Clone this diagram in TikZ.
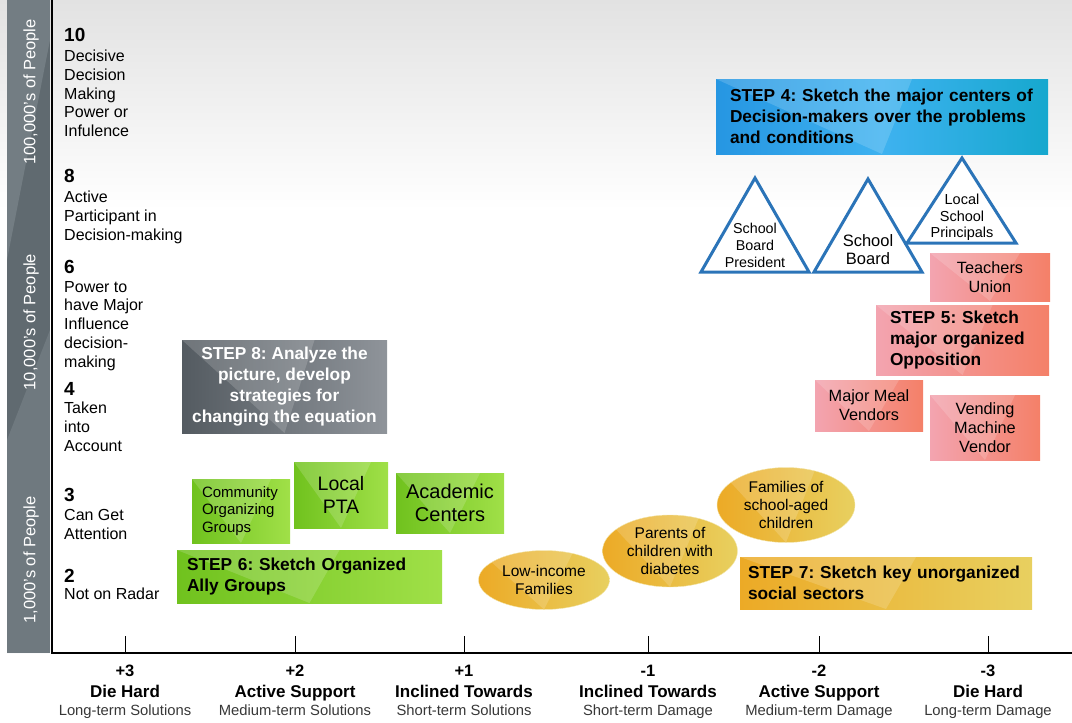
\documentclass[tikz,border=0pt]{standalone}
\usepackage{fontspec}
\setmainfont{Liberation Sans}
\usetikzlibrary{shapes.geometric}
\frenchspacing

\definecolor{bgtop}{RGB}{226,226,226}
\definecolor{bandgray}{RGB}{96,106,112}
\definecolor{bandlight}{RGB}{140,150,155}
\definecolor{triblue}{RGB}{43,116,184}
\definecolor{bluel}{RGB}{38,150,226}
\definecolor{bluem}{RGB}{62,178,240}
\definecolor{bluer}{RGB}{22,168,206}
\definecolor{pinkl}{RGB}{243,164,176}
\definecolor{pinkr}{RGB}{244,128,104}
\definecolor{greenl}{RGB}{112,194,30}
\definecolor{greenr}{RGB}{160,224,72}
\definecolor{grayl}{RGB}{84,91,97}
\definecolor{grayr}{RGB}{143,148,154}
\definecolor{goldl}{RGB}{236,170,38}
\definecolor{goldr}{RGB}{232,208,96}
\definecolor{termgray}{RGB}{55,55,55}

\tikzset{
  facet/.style={path picture={\fill[white,opacity=.16] (path picture bounding box.north west) -- ([xshift=30pt]path picture bounding box.north) -- (path picture bounding box.south) -- cycle;}},
  bluebox/.style={left color=bluel, right color=bluer, middle color=bluem, facet},
  pinkbox/.style={left color=pinkl, right color=pinkr, facet},
  greenbox/.style={left color=greenl, right color=greenr, facet},
  graybox/.style={left color=grayl, right color=grayr, facet},
  goldbox/.style={left color=goldl, right color=goldr, facet},
  goldoval/.style={ellipse, inner sep=0pt, left color=goldl, right color=goldr, draw=goldr!50!white, facet},
  steptext/.style={inner xsep=#1, inner ysep=0pt, align=left, font=\bfseries\fontsize{17.3}{21}\selectfont},
  boxtext/.style={inner sep=0pt, align=center, font=\fontsize{16.3}{19}\selectfont},
  ovaltext/.style={align=center, font=\fontsize{15.5}{18}\selectfont},
  decider/.style={draw=triblue, line width=3pt, fill=white},
  tritext/.style={anchor=north, inner sep=0pt, align=center, font=\fontsize{14.3}{16.8}\selectfont},
  levelnum/.style={anchor=north west, inner sep=0pt, font=\bfseries\fontsize{19}{22}\selectfont},
  leveltext/.style={anchor=north west, inner sep=0pt, align=left, font=\fontsize{16}{18.7}\selectfont},
  bandtext/.style={rotate=90, text=white, font=\fontsize{16.5}{18}\selectfont},
  axisnum/.style={anchor=north, inner sep=0pt, font=\bfseries\fontsize{16.5}{18}\selectfont},
  axisname/.style={anchor=north, inner sep=0pt, font=\bfseries\fontsize{17}{19}\selectfont},
  axisterm/.style={anchor=north, inner sep=0pt, text=termgray, font=\fontsize{14.8}{17}\selectfont}
}

\begin{document}
\begin{tikzpicture}[x=1pt,y=-1pt]

      \useasboundingbox (0,0) rectangle (1072,723);
      \shade[top color=bgtop, bottom color=white] (0,0) rectangle (1072,210);

      % side band
      \fill[bandgray] (7,0) rectangle (50,653);
      \fill[bandlight, opacity=.45] (7,0) -- (50,0) -- (50,40) -- (7,260) -- cycle;
      \fill[bandlight, opacity=.35] (7,440) -- (50,330) -- (50,653) -- (7,653) -- cycle;
      \node[bandtext] (bandhigh) at (31,92) {100,000's of People};
      \node[bandtext] (bandmid) at (31,322) {10,000's of People};
      \node[bandtext] (bandlow) at (31,560) {1,000's of People};

      % axes
      \draw[line width=2.2pt] (52,0) -- (52,653) -- (1072,653);
      \draw (125,636) -- (125,653);
      \draw (295,636) -- (295,653);
      \draw (464,636) -- (464,653);
      \draw (648,636) -- (648,653);
      \draw (819,636) -- (819,653);
      \draw (988,636) -- (988,653);

      \node[axisnum] (plusthree) at (125,665) {+3};
      \node[axisname] (plusthreename) at (125,685) {Die Hard};
      \node[axisterm] (plusthreeterm) at (125,705) {Long-term Solutions};
      \node[axisnum] (plustwo) at (295,665) {+2};
      \node[axisname] (plustwoname) at (295,685) {Active Support};
      \node[axisterm] (plustwoterm) at (295,705) {Medium-term Solutions};
      \node[axisnum] (plusone) at (464,665) {+1};
      \node[axisname] (plusonename) at (464,685) {Inclined Towards};
      \node[axisterm] (plusoneterm) at (464,705) {Short-term Solutions};
      \node[axisnum] (minusone) at (648,665) {-1};
      \node[axisname] (minusonename) at (648,685) {Inclined Towards};
      \node[axisterm] (minusoneterm) at (648,705) {Short-term Damage};
      \node[axisnum] (minustwo) at (819,665) {-2};
      \node[axisname] (minustwoname) at (819,685) {Active Support};
      \node[axisterm] (minustwoterm) at (819,705) {Medium-term Damage};
      \node[axisnum] (minusthree) at (988,665) {-3};
      \node[axisname] (minusthreename) at (988,685) {Die Hard};
      \node[axisterm] (minusthreeterm) at (988,705) {Long-term Damage};

      % power levels
      \node[levelnum] (levelten) at (64,28) {10};
      \node[leveltext] (leveltentext) at (64,50) {Decisive\\Decision\\Making\\Power or\\Infulence};
      \node[levelnum] (leveleight) at (64,169) {8};
      \node[leveltext] (leveleighttext) at (64,191) {Active\\Participant in\\Decision-making};
      \node[levelnum] (levelsix) at (64,260) {6};
      \node[leveltext] (levelsixtext) at (64,281) {Power to\\have Major\\Influence\\decision-\\making};
      \node[levelnum] (levelfour) at (64,382) {4};
      \node[leveltext] (levelfourtext) at (64,402) {Taken\\into\\Account};
      \node[levelnum] (levelthree) at (64,488) {3};
      \node[leveltext] (levelthreetext) at (64,509) {Can Get\\Attention};
      \node[levelnum] (leveltwo) at (64,569) {2};
      \node[leveltext] (leveltwotext) at (64,588) {Not on Radar};

      % decision makers
      \node[bluebox, steptext=14pt, text width=304pt, minimum height=75pt] (stepfour) at (882,116.5) {STEP 4: Sketch the major centers of\\Decision-makers over the problems\\and conditions};
      \draw[decider] (755,178) -- (809,272) -- (701,272) -- cycle;
      \draw[decider] (868,179) -- (922,272) -- (814,272) -- cycle;
      \draw[decider] (962,158) -- (1016,243) -- (907,243) -- cycle;
      \node[tritext] (boardpresident) at (755,223) {School\\Board\\President};
      \node[tritext, font=\fontsize{16.5}{18.5}\selectfont] (schoolboard) at (868,234) {School\\Board};
      \node[tritext, font=\fontsize{14.5}{16.5}\selectfont] (principals) at (962,194) {Local\\School\\Principals};

      % opposition
      \node[pinkbox, boxtext, minimum width=120pt, minimum height=48pt] (teachers) at (990,277) {Teachers\\Union};
      \node[pinkbox, steptext=14pt, text width=145pt, minimum height=70pt] (stepfive) at (962.5,340) {STEP 5: Sketch\\major organized\\Opposition};
      \node[pinkbox, boxtext, minimum width=108pt, minimum height=51pt] (mealvendors) at (869,405.5) {Major Meal\\Vendors};
      \node[pinkbox, boxtext, minimum width=110pt, minimum height=65pt] (vending) at (985,427.5) {Vending\\Machine\\Vendor};

      % analysis
      \node[graybox, text=white, inner sep=0pt, align=center, font=\bfseries\fontsize{17.3}{21}\selectfont, minimum width=205pt, minimum height=93pt] (stepeight) at (284.5,386.5) {STEP 8: Analyze the\\picture, develop\\strategies for\\changing the equation};

      % allies
      \node[greenbox, steptext=10pt, font=\fontsize{15}{17.5}\selectfont, text width=78pt, minimum height=64pt] (community) at (241,511) {Community\\Organizing\\Groups};
      \node[greenbox, boxtext, font=\fontsize{19.5}{22.5}\selectfont, minimum width=94pt, minimum height=66pt] (pta) at (341,495) {Local\\PTA};
      \node[greenbox, boxtext, font=\fontsize{20}{23}\selectfont, minimum width=108pt, minimum height=60pt] (academic) at (450,503) {Academic\\Centers};
      \node[greenbox, steptext=10pt, text width=245pt, minimum height=53pt] (stepsix) at (309.5,576.5) {STEP 6: Sketch Organized\\Ally Groups};

      % unorganized sectors
      \node[goldoval, ovaltext, minimum width=131pt, minimum height=59pt] (lowincome) at (544,580) {Low-income\\Families};
      \node[goldoval, ovaltext, minimum width=135pt, minimum height=72pt] (diabetes) at (670,551) {Parents of\\children with\\diabetes};
      \node[goldoval, ovaltext, minimum width=138pt, minimum height=75pt] (families) at (786,505) {Families of\\school-aged\\children};
      \node[goldbox, steptext=8pt, text width=276pt, minimum height=52pt] (stepseven) at (886,583) {STEP 7: Sketch key unorganized\\social sectors};

\end{tikzpicture}
\end{document}
